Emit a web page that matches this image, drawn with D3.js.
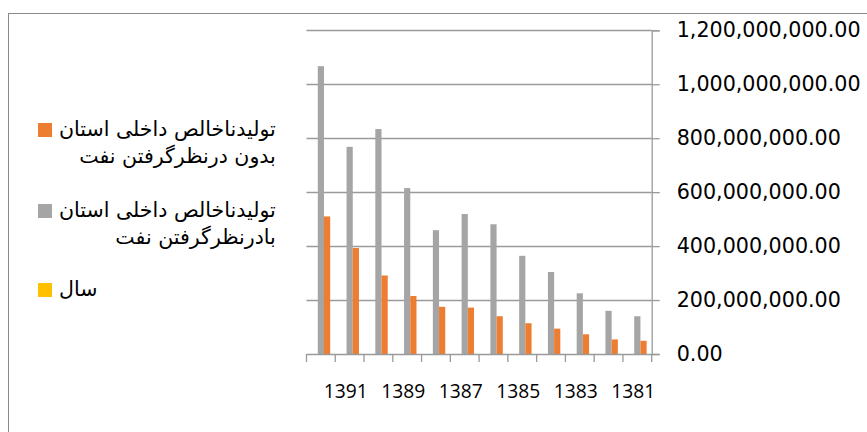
<!DOCTYPE html>
<html>
<head>
<meta charset="utf-8">
<script src="https://cdn.jsdelivr.net/npm/d3@7"></script>
<style>
  html, body { margin: 0; padding: 0; background: #fff; }
  svg { display: block; }
</style>
</head>
<body>
<svg id="chart" width="867" height="432"></svg>
<script>
// ---- data ----
const years = [1392, 1391, 1390, 1389, 1388, 1387, 1386, 1385, 1384, 1383, 1382, 1381];
const withOil = [1067e6, 768e6, 834e6, 615e6, 459e6, 519e6, 481e6, 364e6, 304e6, 225e6, 160e6, 140e6];
const withoutOil = [510e6, 393e6, 291e6, 215e6, 175e6, 172e6, 140e6, 114e6, 94e6, 73e6, 54e6, 49e6];
const yearSeries = years.slice();
const xTickLabels = ["1391", "1389", "1387", "1385", "1383", "1381"];
const yTicks = [0, 200e6, 400e6, 600e6, 800e6, 1000e6, 1200e6];
const seriesKeys = ["year", "withOil", "withoutOil"];
const seriesColors = { year: "#FFC000", withOil: "#A5A5A5", withoutOil: "#ED7D31" };
const legendItems = [
  { key: "withoutOil", lines: ["تولیدناخالص داخلی استان", "بدون درنظرگرفتن نفت"] },
  { key: "withOil", lines: ["تولیدناخالص داخلی استان", "بادرنظرگرفتن نفت"] },
  { key: "year", lines: ["سال"] }
];

const table = years.map((y, i) => ({ year: y, values: { year: yearSeries[i], withOil: withOil[i], withoutOil: withoutOil[i] } }));

const svg = d3.select("#chart");

// font size that makes a sample string reach a target width
function fitSize(family, sample, target) {
  const t = svg.append("text").attr("font-family", family).attr("font-size", 20).text(sample);
  const w = t.node().getComputedTextLength();
  t.remove();
  return 20 * target / w;
}
const yFont = "'DejaVu Sans', sans-serif";
const xFont = "'Open Sans', sans-serif";
const lFont = "'DejaVu Sans', sans-serif";
const yFs = fitSize(yFont, "1,200,000,000.00", 184);
const xFs = fitSize(xFont, "1391", 44);
const lFs = fitSize(lFont, legendItems[0].lines[0], 217);

// chart border
svg.append("rect").attr("x", 8.5).attr("y", 13.5).attr("width", 1000).attr("height", 1000)
  .attr("fill", "#fff").attr("stroke", "#8a8a8a").attr("stroke-width", 1);

const x0 = d3.scaleBand().domain(years).range([306.5, 651.7]).padding(0);
const x1 = d3.scaleBand().domain(seriesKeys).range([0, x0.bandwidth()]).paddingInner(0).paddingOuter(0.82);
const y = d3.scaleLinear().domain([0, 1200e6]).range([354, 30.3]);

// gridlines
svg.append("g").selectAll("line").data(yTicks.filter(t => t > 0)).join("line")
  .attr("x1", 306.5).attr("x2", 651.7)
  .attr("y1", d => Math.round(y(d)) + 0.5).attr("y2", d => Math.round(y(d)) + 0.5)
  .attr("stroke", "#9a9a9a").attr("stroke-width", 1.3);

// bars
const groups = svg.append("g").selectAll("g").data(table).join("g")
  .attr("transform", d => `translate(${x0(d.year)},0)`);
groups.selectAll("rect").data(d => seriesKeys.map(k => ({ key: k, value: d.values[k] }))).join("rect")
  .attr("x", d => x1(d.key))
  .attr("width", x1.bandwidth())
  .attr("y", d => y(d.value))
  .attr("height", d => y(0) - y(d.value))
  .attr("fill", d => seriesColors[d.key]);

// x axis
const xAxis = d3.axisBottom(x0).tickSize(0).tickFormat(d => xTickLabels.includes(String(d)) ? String(d) : "");
const gx = svg.append("g").attr("transform", `translate(0,${354})`).call(xAxis);
gx.select(".domain").attr("stroke", "#9a9a9a").attr("stroke-width", 1.3);
gx.selectAll("text").attr("font-family", xFont).attr("font-size", xFs)
  .attr("fill", "#000").attr("dy", 0).attr("y", 43.5).attr("dx", -4);
// category boundary ticks
const bounds = years.map(d => x0(d)).concat([x0(years[years.length - 1]) + x0.bandwidth()]);
svg.append("g").selectAll("line").data(bounds).join("line")
  .attr("x1", d => d).attr("x2", d => d).attr("y1", 354).attr("y2", 362)
  .attr("stroke", "#9a9a9a").attr("stroke-width", 1.3);

// y axis (right)
const yAxis = d3.axisRight(y).tickValues(yTicks).tickSize(8).tickPadding(17)
  .tickFormat(d => d3.format(",.2f")(d));
const gy = svg.append("g").attr("transform", `translate(${651.7},0)`).call(yAxis);
gy.select(".domain").attr("stroke", "#9a9a9a").attr("stroke-width", 1.3);
gy.selectAll(".tick line").attr("stroke", "#9a9a9a").attr("stroke-width", 1.3);
gy.selectAll("text").attr("font-family", yFont).attr("font-size", yFs).attr("fill", "#000");

// legend
const legendTop = [123, 204, 283];
const legend = svg.append("g");
legendItems.forEach((item, i) => {
  legend.append("rect").attr("x", 38).attr("y", legendTop[i]).attr("width", 14).attr("height", 14)
    .attr("fill", seriesColors[item.key]);
  const t = legend.append("text").attr("font-family", lFont).attr("font-size", lFs)
    .attr("fill", "#000").attr("text-anchor", "end");
  const spans = item.lines.map((ln, j) =>
    t.append("tspan").attr("y", legendTop[i] + 13 + j * 27).text(ln));
  const maxW = d3.max(spans, s => s.node().getComputedTextLength());
  const right = Math.min(277, 59 + maxW);
  spans.forEach(s => s.attr("x", right));
});
</script>
</body>
</html>
